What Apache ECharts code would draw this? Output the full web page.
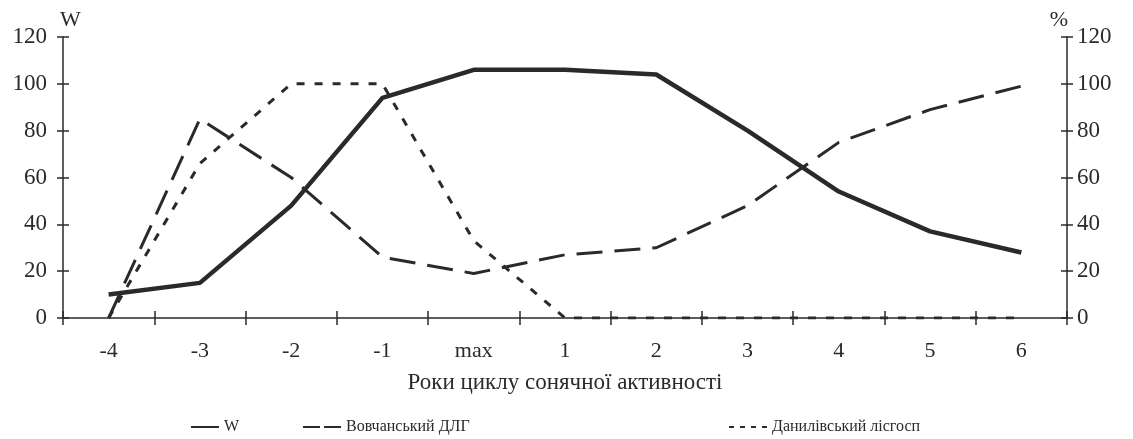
<!DOCTYPE html>
<html>
<head>
<meta charset="utf-8">
<script src="https://cdn.jsdelivr.net/npm/echarts@6/dist/echarts.min.js"></script>
<style>
html,body{margin:0;padding:0;background:#fff;}
#chart{width:1133px;height:439px;}
</style>
</head>
<body>
<div id="chart"></div>
<script>
const categories = ['-4','-3','-2','-1','max','1','2','3','4','5','6'];
const wValues = [10, 15, 48, 94, 106, 106, 104, 80, 54, 37, 28];
const vovchanskyi = [0, 85, 60, 26, 19, 27, 30, 48, 75, 89, 99];
const danylivskyi = [0, 66, 100, 100, 33, 0, 0, 0, 0, 0, 0];
const seriesNames = ['W', 'Вовчанський ДЛГ', 'Данилівський лісгосп'];
const xAxisTitle = 'Роки циклу сонячної активності';
const leftAxisTitle = 'W';
const rightAxisTitle = '%';

const ink = '#2a2a2a';
const font = 'Liberation Serif';

const chart = echarts.init(document.getElementById('chart'), null, {renderer: 'canvas'});

function yAx(pos, inside, showLabel, name) {
  return {
    type: 'value', position: pos, min: 0, max: 120, interval: 20,
    name: name || '',
    nameLocation: 'end',
    nameGap: 6,
    nameTextStyle: {fontFamily: font, fontSize: 22, color: ink,
      align: pos === 'left' ? 'left' : 'right', padding: pos === 'left' ? [0,0,0,-3] : [0,-1,0,0]},
    axisLine: {show: !inside, lineStyle: {color: ink, width: 1.5}},
    axisTick: {show: true, inside: inside, length: 6, lineStyle: {color: ink, width: 1.5}},
    axisLabel: {show: showLabel, fontFamily: font, fontSize: 23, color: ink, margin: pos === 'left' ? 16 : 10},
    splitLine: {show: false}
  };
}

function legendItem(name, left, width, iconPath) {
  return {
    data: [name], left: left, top: 414, itemWidth: width, itemHeight: 2, itemGap: 5,
    icon: iconPath,
    itemStyle: {color: ink, opacity: 1, borderWidth: 0},
    textStyle: {fontFamily: font, fontSize: 16, color: ink}
  };
}

chart.setOption({
  backgroundColor: '#fff',
  animation: false,
  grid: {left: 63, right: 66, top: 37, bottom: 121, containLabel: false},
  legend: [
    legendItem(seriesNames[0], 186, 28, 'path://M0,0h28v2h-28z'),
    legendItem(seriesNames[1], 298, 38, 'path://M0,0h17v2h-17z M21,0h17v2h-17z'),
    legendItem(seriesNames[2], 724, 38, 'path://M0,0h5v2h-5z M11,0h5v2h-5z M22,0h5v2h-5z M33,0h5v2h-5z')
  ],
  xAxis: [
    {type: 'category', data: categories, boundaryGap: true, position: 'bottom',
     name: xAxisTitle, nameLocation: 'middle', nameGap: 53,
     nameTextStyle: {fontFamily: font, fontSize: 23, color: ink},
     axisLine: {show: true, onZero: false, lineStyle: {color: ink, width: 1.5}},
     axisTick: {show: true, inside: false, length: 7, alignWithLabel: false, lineStyle: {color: ink, width: 1.5}},
     axisLabel: {fontFamily: font, fontSize: 22, color: ink, margin: 22},
     splitLine: {show: false}},
    {type: 'category', data: categories, boundaryGap: true, position: 'bottom',
     axisLine: {show: false},
     axisTick: {show: true, inside: true, length: 7, lineStyle: {color: ink, width: 1.5}},
     axisLabel: {show: false}, splitLine: {show: false}}
  ],
  yAxis: [
    yAx('left', false, true, leftAxisTitle),
    yAx('left', true, false),
    yAx('right', false, true, rightAxisTitle),
    yAx('right', true, false)
  ],
  series: [
    {name: seriesNames[0], type: 'line', data: wValues, yAxisIndex: 0, xAxisIndex: 0,
     symbol: 'none', lineStyle: {color: ink, width: 4.5, type: 'solid', join: 'round'},
     itemStyle: {color: ink}},
    {name: seriesNames[1], type: 'line', data: vovchanskyi, yAxisIndex: 2, xAxisIndex: 0,
     symbol: 'none', lineStyle: {color: ink, width: 3, type: [26, 12]},
     itemStyle: {color: ink}},
    {name: seriesNames[2], type: 'line', data: danylivskyi, yAxisIndex: 2, xAxisIndex: 0,
     symbol: 'none', lineStyle: {color: ink, width: 3, type: [8, 10]},
     itemStyle: {color: ink}}
  ]
});
</script>
</body>
</html>
